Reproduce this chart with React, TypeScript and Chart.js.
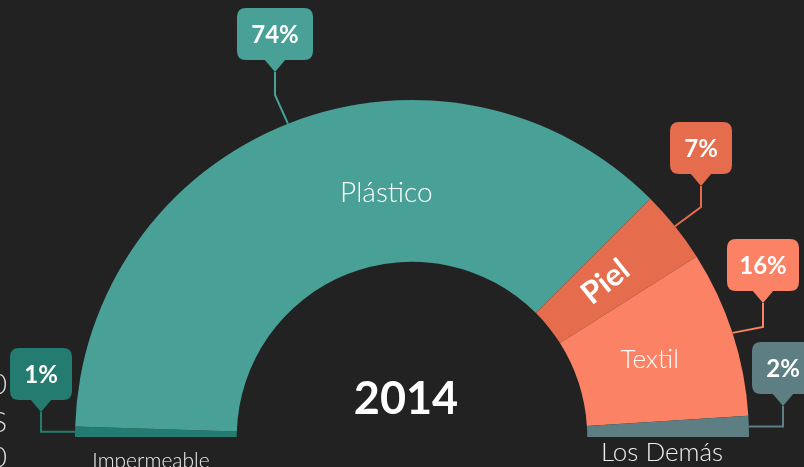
import React, { useEffect, useRef } from "react";
import { Chart, registerables } from "chart.js";

Chart.register(...registerables);

const categories = ["Impermeable", "Plástico", "Piel", "Textil", "Los Demás"];
const shares = [1, 74, 7, 16, 2];
const percentLabels = ["1%", "74%", "7%", "16%", "2%"];
const centerTitle = "2014";

const sliceColors = ["#247C70", "#49A096", "#E56C4C", "#FB8264", "#5D7E82"];

// callout styling: box centre x, box top y, box width, elbow y (null = horizontal)
const calloutStyle = [
  { cx: 41, top: 348, w: 62, elbowY: null as number | null },
  { cx: 275, top: 8, w: 76, elbowY: 95 },
  { cx: 701, top: 122, w: 62, elbowY: 207 },
  { cx: 763, top: 239, w: 72, elbowY: 327 },
  { cx: 783, top: 342, w: 62, elbowY: null as number | null },
];

// label placement styles
const labelStyle = [
  { mode: "below", x: 151, y: 461, size: 21, bold: false, rotate: false },
  { mode: "arc", angleDeg: -96, r: 245, size: 28, bold: false, rotate: false },
  { mode: "arc", angleDeg: null, r: 248, size: 31, bold: true, rotate: true },
  { mode: "arc", angleDeg: null, r: 250, size: 26, bold: false, rotate: false },
  { mode: "below", x: 662, y: 453, size: 26, bold: false, rotate: false },
];

const FONT = "Lato, 'Open Sans', sans-serif";

function roundRect(ctx: CanvasRenderingContext2D, x: number, y: number, w: number, h: number, r: number) {
  ctx.beginPath();
  ctx.moveTo(x + r, y);
  ctx.lineTo(x + w - r, y);
  ctx.quadraticCurveTo(x + w, y, x + w, y + r);
  ctx.lineTo(x + w, y + h - r);
  ctx.quadraticCurveTo(x + w, y + h, x + w - r, y + h);
  ctx.lineTo(x + r, y + h);
  ctx.quadraticCurveTo(x, y + h, x, y + h - r);
  ctx.lineTo(x, y + r);
  ctx.quadraticCurveTo(x, y, x + r, y);
  ctx.closePath();
}

const overlayPlugin = {
  id: "overlay",
  afterDraw(chart: any) {
    const ctx: CanvasRenderingContext2D = chart.ctx;
    const meta = chart.getDatasetMeta(0);
    ctx.save();

    // clipped text at the far left edge
    ctx.fillStyle = "#dddddd";
    ctx.font = `300 28px ${FONT}`;
    ctx.textAlign = "right";
    ctx.textBaseline = "middle";
    ctx.fillText("0", 7, 385);
    ctx.fillText("S", 7, 423);
    ctx.fillText("0", 7, 458);

    meta.data.forEach((arc: any, i: number) => {
      const p = arc.getProps(["x", "y", "startAngle", "endAngle", "outerRadius", "innerRadius"], true);
      const mid = (p.startAngle + p.endAngle) / 2;
      const color = sliceColors[i];

      // callout
      const cs = calloutStyle[i];
      const ax = p.x + Math.cos(mid) * p.outerRadius;
      const ay = p.y + Math.sin(mid) * p.outerRadius;
      const bh = 52;
      const tipY = cs.top + bh + 12;
      const elbowY = cs.elbowY === null ? ay : cs.elbowY;
      ctx.strokeStyle = color;
      ctx.lineWidth = 2;
      ctx.beginPath();
      ctx.moveTo(cs.cx, tipY);
      ctx.lineTo(cs.cx, elbowY);
      ctx.lineTo(ax, ay);
      ctx.stroke();

      ctx.fillStyle = color;
      roundRect(ctx, cs.cx - cs.w / 2, cs.top, cs.w, bh, 9);
      ctx.fill();
      ctx.beginPath();
      ctx.moveTo(cs.cx - 11, cs.top + bh - 1);
      ctx.lineTo(cs.cx + 11, cs.top + bh - 1);
      ctx.lineTo(cs.cx, tipY);
      ctx.closePath();
      ctx.fill();

      ctx.fillStyle = "#ffffff";
      ctx.font = `bold 24px ${FONT}`;
      ctx.textAlign = "center";
      ctx.textBaseline = "middle";
      ctx.fillText(percentLabels[i], cs.cx, cs.top + bh / 2 + 1);

      // category label
      const ls: any = labelStyle[i];
      ctx.font = `${ls.bold ? "bold" : "300"} ${ls.size}px ${FONT}`;
      ctx.fillStyle = "#ffffff";
      if (ls.mode === "below") {
        ctx.fillStyle = "#eeeeee";
        ctx.fillText(categories[i], ls.x, ls.y);
      } else {
        const ang = ls.angleDeg === null ? mid : (ls.angleDeg * Math.PI) / 180;
        const lx = p.x + Math.cos(ang) * ls.r;
        const ly = p.y + Math.sin(ang) * ls.r;
        ctx.save();
        ctx.translate(lx, ly);
        if (ls.rotate) ctx.rotate(ang);
        ctx.fillText(categories[i], 0, 0);
        ctx.restore();
      }
    });

    // centre title
    const p0 = meta.data[0].getProps(["x", "y"], true);
    ctx.fillStyle = "#ffffff";
    ctx.font = `bold 45px ${FONT}`;
    ctx.textAlign = "center";
    ctx.textBaseline = "middle";
    ctx.fillText(centerTitle, p0.x - 6, p0.y - 38);

    ctx.restore();
  },
};

export default function App() {
  const ref = useRef<HTMLCanvasElement | null>(null);

  useEffect(() => {
    if (!ref.current) return;
    const chart = new Chart(ref.current, {
      type: "doughnut",
      data: {
        labels: categories,
        datasets: [
          {
            data: shares,
            backgroundColor: sliceColors,
            borderWidth: 0,
          },
        ],
      },
      options: {
        responsive: false,
        animation: false,
        rotation: -90,
        circumference: 180,
        cutout: "52%",
        layout: { padding: { left: 75, right: 55, top: 100, bottom: 30 } },
        plugins: {
          legend: { display: false },
          tooltip: { enabled: false },
        },
      },
      plugins: [overlayPlugin],
    });
    return () => chart.destroy();
  }, []);

  return (
    <div
      style={{
        position: "fixed",
        left: 0,
        top: 0,
        width: 804,
        height: 467,
        background: "#222222",
        overflow: "hidden",
      }}
    >
      <canvas ref={ref} width={804} height={467} style={{ display: "block" }} />
    </div>
  );
}
